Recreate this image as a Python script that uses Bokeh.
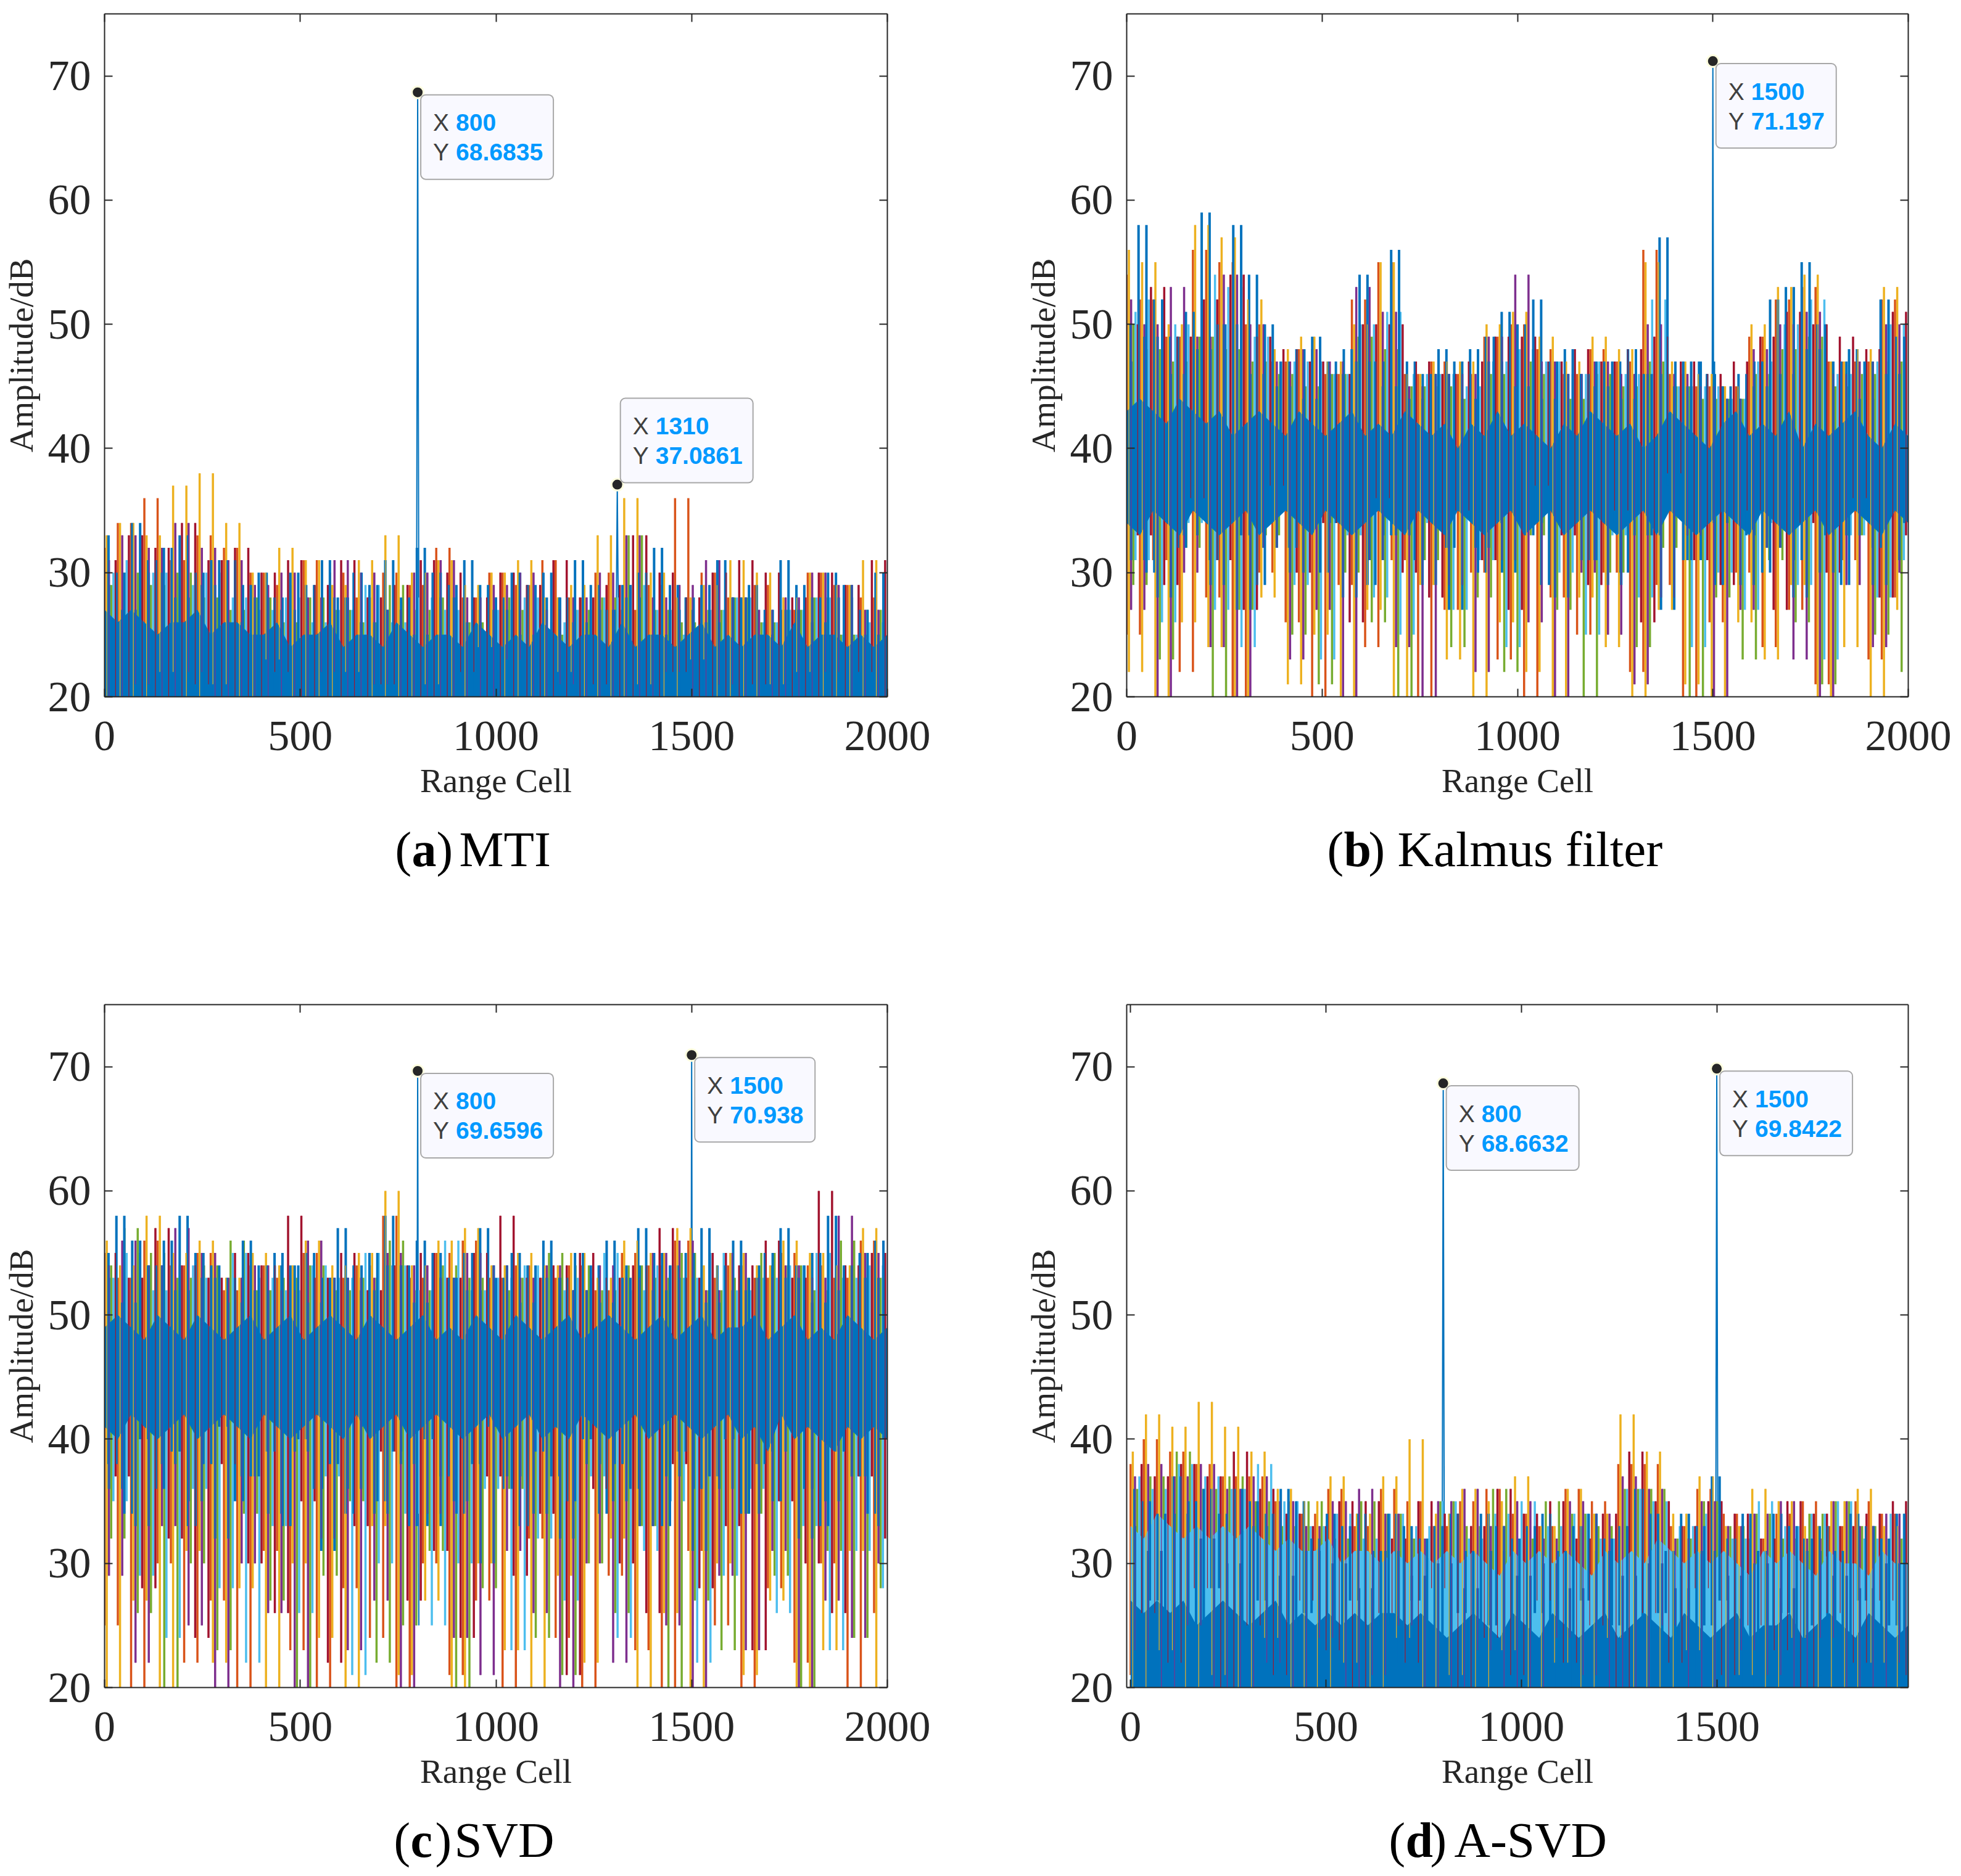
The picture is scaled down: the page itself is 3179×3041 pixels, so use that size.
from bokeh.plotting import figure
from bokeh.layouts import column, row
from bokeh.models import BoxAnnotation, Label, LinearAxis, FixedTicker
from bokeh.core.properties import value
from bokeh.embed import file_html
from bokeh.resources import INLINE
import numpy as np

# Hand-estimated, coarse readings of the dense spectra (alternating peak / trough, dB).
a_orange = [32,19,34,22,36,17,31,21,33,18,32,20,30,16,29,22,31,19,30,17,28,21,30,18,29,20,32,22,28,17,30,19,29,21,31,16,28,20,30,18,27,22,29,17,36,21,30,19,28,20,29,16,27,22,30,18,29,21,28,19]
a_yellow = [33,20,34,17,33,22,37,18,38,21,34,16,30,23,32,19,31,17,29,22,31,20,33,18,30,21,31,16,29,24,30,19,31,17,28,22,29,20,33,18,36,21,30,17,28,23,29,19,31,16,30,21,28,22,30,18,29,20,31,17]
a_purple = [31,17,33,21,32,18,34,22,32,16,31,20,29,19,30,17,28,22,31,18,30,21,27,16,30,19,31,20,28,17,29,23,30,18,27,21,28,16,30,20,33,19,28,22,29,17,31,21,28,18,27,20,28,16,30,22,29,19,27,18]
a_green = [29,21,30,18,29,23,30,17,28,20,27,22,28,19,26,21,28,17,27,23,26,19,29,20,27,18,28,22,26,16,28,21,27,19,25,23,27,18,28,20,33,22,27,17,26,19,27,23,28,18,26,20,27,21,28,17,25,22,27,19]
a_cyan = [30,22,31,19,30,24,29,20,30,18,28,23,27,21,28,19,26,24,27,18,29,22,26,20,28,19,27,23,25,21,27,18,28,24,26,20,27,19,28,22,29,23,27,18,25,21,27,24,28,19,26,22,27,20,28,18,25,23,26,21]
a_red = [31,18,33,20,32,17,34,21,31,19,32,16,30,22,31,18,29,20,31,17,28,21,29,19,31,18,30,22,28,16,30,20,29,19,31,17,28,21,29,18,33,20,30,22,28,17,30,19,31,21,30,18,28,20,30,16,29,22,31,18]
a_blue = [33,19,30,21,34,18,31,22,32,17,33,20,30,18,31,22,31,19,29,21,30,17,28,20,30,18,29,22,31,19,28,17,30,21,29,18,31,20,28,19,32,22,30,17,29,21,31,18,29,20,28,19,30,17,29,22,30,18,28,20,31,19,29,21,27,17,29,22,30,18,32,20,29,19,28,21,29,17,31,22,28,18,29,20,27,19,31,21,29,17,28,22,30,18,29,20,27,19,30,21]
a_blue2 = [29,18,27,21,30,16,28,20,29,17,26,22,28,15,27,19,25,21,28,16,26,20,27,18,25,22,28,17,26,19,27,15,25,21,28,18,26,20,27,16,28,22,25,17,27,19,26,21,28,15,25,18,27,20,26,16,28,22,25,19]
a_core_hi = [27,26,27,26,25,26,26,27,25,26,26,25,25,26,24,25,25,26,24,25,25,24,26,25,24,25,25,24,26,25,24,25,24,26,25,24,25,25,24,26,24,25,25,24,25,26,24,25,24,25,25,24,26,24,25,25,24,25,24,25]
a_core_lo = [20]*60
a_tip_x = [800,1310]
a_tip_y = [68.6835,37.0861]

b_orange = [54,25,52,31,49,22,56,28,55,20,50,30,47,26,48,19,46,29,52,24,55,31,46,18,47,27,46,30,49,23,50,20,48,28,46,25,48,30,47,22,56,29,46,18,45,26,45,30,49,24,52,27,53,21,47,31,47,23,52,28]
b_yellow = [56,22,55,18,50,26,58,24,57,17,52,28,48,21,49,25,47,16,50,27,55,20,46,29,47,23,47,17,50,26,51,22,49,18,47,28,49,24,48,19,55,27,47,21,46,17,45,26,50,23,53,29,54,20,47,24,48,18,53,27]
b_purple = [52,27,50,20,53,30,49,24,54,19,50,32,47,23,48,27,47,20,53,31,51,24,45,18,46,29,46,22,49,31,54,26,47,19,46,30,47,25,46,21,50,28,46,33,45,20,44,27,48,32,50,23,51,18,46,29,47,24,50,30]
b_green = [50,29,48,23,47,32,49,19,48,27,47,33,46,25,45,21,46,30,49,26,48,20,45,31,45,24,44,28,46,22,47,33,46,27,44,20,46,30,45,24,47,32,45,19,44,28,44,23,46,31,48,26,49,21,45,33,46,25,47,22]
b_cyan = [51,31,52,26,50,34,54,27,53,24,49,35,47,29,47,23,46,33,50,28,51,25,46,34,46,27,45,31,47,24,48,36,47,30,46,25,47,33,46,28,52,35,45,24,45,30,44,27,47,34,50,29,52,23,46,33,47,28,50,31]
b_red = [50,33,53,29,49,36,52,31,54,27,49,37,48,30,47,34,46,26,50,36,50,30,47,28,46,35,47,31,49,27,49,37,47,33,48,29,47,35,48,26,49,38,47,31,46,29,47,35,49,27,51,34,50,30,49,36,48,28,51,33]
b_blue = [50,34,58,30,52,36,49,32,51,37,59,31,50,35,58,33,54,29,50,36,47,32,48,37,49,30,47,34,48,36,54,29,47,33,56,36,47,31,46,35,48,32,47,37,48,30,49,34,51,36,50,33,52,29,47,35,48,37,46,31,47,34,47,30,48,36,46,33,57,37,47,31,47,34,46,29,45,36,46,33,47,30,52,35,53,31,55,37,50,33,47,29,48,35,47,32,52,36,49,34]
b_blue2 = [47,31,49,28,46,33,48,29,50,27,46,32,45,30,44,34,46,28,47,31,45,33,44,29,46,27,44,32,47,30,45,34,44,28,46,31,45,29,44,33,46,27,45,31,47,34,44,29,45,32,46,28,48,30,47,33,44,29,46,31]
b_core_hi = [43,44,43,42,44,43,42,43,41,42,43,42,41,43,42,41,42,43,41,42,41,43,42,41,42,40,42,41,43,41,42,41,40,42,41,43,42,41,42,40,41,43,42,41,40,42,43,41,42,41,43,40,42,41,42,43,41,40,42,41]
b_core_lo = [34,33,35,34,33,35,34,33,34,35,33,34,35,34,33,35,34,33,34,35,34,33,35,34,33,35,34,33,34,35,33,34,35,33,34,35,34,33,34,35,33,35,34,33,34,35,34,33,35,34,33,34,35,33,34,35,34,33,35,34]
b_tip_x = [1500]
b_tip_y = [71.197]

c_orange = [55,25,53,19,56,30,54,22,55,27,52,18,54,31,53,23,55,20,53,28,54,24,58,17,53,30,55,21,56,27,53,19,54,32,53,24,54,20,52,29,55,23,54,18,56,31,53,25,54,20,53,28,55,22,54,30,53,19,56,26]
c_yellow = [56,20,54,27,58,18,55,31,56,22,53,28,55,17,54,30,56,24,54,19,55,33,60,21,54,27,56,18,57,30,54,23,55,17,54,29,55,22,53,32,56,19,55,26,57,18,54,30,55,21,54,27,56,17,55,23,54,31,57,20]
c_purple = [54,29,56,22,54,33,57,25,55,18,53,30,54,26,52,20,56,32,53,23,53,27,55,19,54,34,53,24,55,21,54,31,53,26,54,18,52,30,54,22,53,33,55,25,56,19,52,29,55,23,53,31,54,20,53,27,58,24,55,30]
c_green = [54,32,57,26,55,19,53,30,54,23,56,34,52,27,53,20,54,29,52,35,53,22,56,25,52,31,54,19,53,28,52,36,53,24,55,21,54,30,52,26,54,33,53,18,55,27,52,23,53,34,55,29,54,20,52,31,56,24,53,28]
c_cyan = [53,35,55,29,52,24,54,36,53,28,55,22,53,33,52,26,54,37,53,21,55,30,54,34,52,25,56,30,52,36,53,23,54,32,52,27,53,37,55,24,52,31,54,35,53,22,55,29,52,36,53,26,54,33,55,23,53,31,54,28]
c_red = [55,37,53,28,57,32,54,24,53,38,55,30,54,26,58,35,53,22,55,33,52,39,54,27,55,31,53,24,55,37,58,29,53,34,54,21,55,36,53,30,54,26,57,38,53,28,55,33,54,23,56,35,53,30,60,26,54,37,55,32]
c_blue = [55,38,58,34,56,40,54,36,56,39,58,33,55,38,54,41,53,35,56,37,54,39,55,33,54,40,55,36,53,38,57,34,54,41,55,35,58,39,54,33,56,40,55,37,53,34,55,38,57,41,53,36,55,33,54,39,56,37,53,35,55,40,54,34,56,38,53,36,57,41,55,33,54,39,55,36,57,37,54,40,56,34,53,38,55,35,57,41,54,36,55,33,58,39,54,37,55,34,56,40]
c_blue2 = [53,36,51,33,54,38,52,35,53,32,51,37,52,34,54,39,51,31,53,36,52,34,54,38,51,33,53,35,52,30,54,37,51,34,53,32,52,38,51,35,54,33,52,37,53,31,51,36,52,34,54,39,53,32,51,35,52,37,53,33]
c_core_hi = [49,50,49,48,50,49,48,50,49,48,49,50,48,49,50,48,49,50,49,48,50,49,48,49,50,48,49,48,50,49,48,50,49,48,49,50,48,49,50,49,48,49,50,48,49,50,48,49,49,50,48,49,50,48,49,48,50,49,48,49]
c_core_lo = [41,40,42,41,40,41,42,40,41,42,41,40,42,41,40,41,42,41,40,42,40,41,42,40,41,42,41,40,41,42,40,41,42,40,41,40,42,41,40,41,42,40,41,42,41,40,41,42,40,41,39,42,40,41,40,39,41,40,41,40]
c_tip_x = [800,1500]
c_tip_y = [69.6596,70.938]

d_orange = [38,21,40,17,39,23,38,19,37,22,37,18,35,24,34,17,36,21,33,20,36,23,35,18,33,22,35,19,36,17,34,24,33,20,36,18,35,22,38,19,38,23,33,17,36,21,34,20,32,18,34,23,35,19,33,22,35,17,34,21]
d_yellow = [39,19,42,23,41,17,43,21,41,18,39,24,36,20,35,17,37,22,34,19,37,24,40,18,34,21,36,17,35,23,37,19,33,22,36,18,34,24,42,20,39,17,34,23,37,19,33,21,36,18,35,24,33,20,35,17,36,22,33,19]
d_purple = [37,23,38,18,37,25,38,20,36,17,37,22,35,19,33,24,35,18,36,21,34,25,32,19,35,17,36,23,33,20,35,18,32,24,35,21,34,19,37,17,36,25,32,20,35,18,33,23,34,21,35,19,32,24,35,17,33,20,34,22]
d_green = [36,24,37,20,39,26,36,22,37,19,35,25,33,21,35,27,32,19,35,24,34,22,32,26,35,20,33,23,36,19,32,27,35,21,34,24,33,20,36,26,36,22,32,19,35,25,33,23,34,27,32,20,34,22,35,25,33,19,32,24]
d_cyan = [37,27,36,23,38,29,37,24,36,22,38,28,35,25,33,23,34,27,32,22,34,28,33,25,35,23,32,27,34,22,35,29,33,24,34,26,32,23,36,28,35,24,33,22,34,28,32,25,35,23,33,27,34,22,35,26,32,24,34,27]
d_red = [38,26,37,22,38,28,37,20,39,25,36,21,34,27,33,23,35,19,35,26,32,22,35,28,34,20,33,24,36,21,34,27,35,22,32,25,34,19,39,26,35,22,33,28,35,21,34,25,32,23,35,20,34,26,33,22,34,27,35,21]
d_blue = [36,24,35,27,34,22,37,26,35,23,36,28,34,21,36,25,35,27,34,23,36,20,35,26,32,24,34,22,33,27,34,21,31,25,34,23,33,27,32,20,33,24,34,26,31,22,34,25,33,21,32,23,33,26,34,20,31,24,33,27,34,22,32,25,33,21,36,24,34,26,31,23,34,20,33,25,37,27,32,22,34,24,31,21,34,26,33,23,32,25,33,20,31,24,34,27,33,22,32,25,34,23]
d_blue2 = [33,20,31,23,34,18,32,22,30,19,33,24,29,17,31,21,30,23,28,19,31,22,29,17,30,21,28,24,31,18,29,22,30,19,28,23,31,17,29,21,30,24,28,18,31,22,29,19,30,23,28,17,31,21,29,24,28,19,30,22]
d_core_hi = [27,26,27,26,27,25,26,27,26,25,26,27,25,26,25,26,25,26,25,26,26,25,26,25,24,25,26,25,24,26,25,24,26,25,24,25,26,24,25,26,25,24,26,25,24,25,26,24,25,25,26,24,25,26,25,24,26,25,24,25]
d_core_lo = [20]*60
d_band_hi = [33,32,34,33,32,33,32,33,32,33,32,31,32,31,31,32,30,31,31,30,31,30,31,30,31,30,31,30,29,31,30,31,30,31,30,29,31,30,31,30,32,31,30,31,30,31,30,29,31,30,31,30,29,31,30,30,29,31,30,30]
d_tip_x = [800,1500]
d_tip_y = [68.6632,69.8422]

SERIES_COLORS = ["#D95319","#EDB120","#7E2F8E","#77AC30","#4DBEEE","#A2142F"]
BLUE = "#0072BD"
X_TICKS = [0,500,1000,1500,2000]
Y_TICKS = [20,30,40,50,60,70]
CAP_LETTERS = [["a","b"],["c","d"]]
CAP_NAMES = [["MTI","Kalmus filter"],["SVD","A-SVD"]]
TXT = "#262626"

def streaks(p, x, vals, color, lw):
    p.segment(x[:-1], vals[:-1], x[:-1], vals[1:], line_color=color, line_width=lw, line_cap="butt")

def panel(series, blue, blue2, core_hi, core_lo, tips, xlim, xmax_data, xticks, frame_w, border_l, border_r, border_t, border_b, band=None, above=()):
    tx, ty = tips
    p = figure(width=border_l+frame_w+border_r, height=border_t+1107+border_b,
               frame_width=frame_w, frame_height=1107, x_range=xlim, y_range=(20,75),
               output_backend="svg", toolbar_location=None, min_border_left=border_l,
               min_border_right=border_r, min_border_top=border_t, min_border_bottom=border_b)
    sx = frame_w/(xlim[1]-xlim[0]); sy = 1107/55
    for x,y in zip(tx,ty):
        p.line([x-3,x,x+3],[25,y,25],line_color=BLUE,line_width=2)
    xs_all = []
    for k,(vals,col) in enumerate(zip(series,SERIES_COLORS)):
        step = xmax_data/(len(vals)-1)
        x = np.linspace(0,xmax_data,len(vals))+k*step/6
        xs_all.append(x)
        streaks(p, x, vals, col, 3.5)
    xc = np.linspace(0,xmax_data,len(core_hi))
    if band is not None:
        p.varea(xc, core_lo, band, fill_color=SERIES_COLORS[4])
    p.varea(xc, core_lo, core_hi, fill_color=BLUE)
    bstep = xmax_data/(len(blue)-1)
    streaks(p, np.linspace(0,xmax_data,len(blue))+bstep/2, blue, BLUE, 4)
    b2step = xmax_data/(len(blue2)-1)
    streaks(p, np.linspace(0,xmax_data,len(blue2))+b2step/3, blue2, BLUE, 4)
    for k in (1,2,5):
        streaks(p, xs_all[k], series[k], SERIES_COLORS[k], 1.2)
    p.scatter(tx,ty,size=19,fill_color="#262626",line_color="#FFFFE0",line_width=3)
    for i,(x,y) in enumerate(zip(tx,ty)):
        xs, ys = str(x), f"{y:g}"
        w = 195 if len(ys)==6 else 215
        lft = x+5/sx
        top = y+140/sy if i in above else y-4/sy
        p.add_layout(BoxAnnotation(left=lft,right=lft+w/sx,top=top,bottom=top-137/sy,
            fill_color="#F9F9FF",fill_alpha=1,line_color="#A8A8A8",line_alpha=1,line_width=2,border_radius=8))
        for txt,dy in ((("X",xs),45),(("Y",ys),93)):
            p.add_layout(Label(x=lft+20/sx,y=top-dy/sy,text=txt[0],text_font="Liberation Sans",text_font_size="39px",
                text_color="#404040",text_baseline="middle"))
            p.add_layout(Label(x=lft+57/sx,y=top-dy/sy,text=txt[1],text_font="Liberation Sans",text_font_size="39px",
                text_font_style="bold",text_color="#0099FF",text_baseline="middle"))
    xa, ya = p.xaxis[0], p.yaxis[0]
    for ax,ticks in ((xa,xticks),(ya,Y_TICKS)):
        ax.ticker = FixedTicker(ticks=ticks)
        ax.major_tick_in=13; ax.major_tick_out=0; ax.minor_tick_line_color=None
        ax.major_tick_line_color=TXT; ax.major_tick_line_width=2; ax.axis_line_color=TXT; ax.axis_line_width=2
        ax.major_label_text_font="Liberation Serif"; ax.major_label_text_font_size="70px"; ax.major_label_text_color=TXT
        ax.axis_label_text_font="Liberation Serif"; ax.axis_label_text_font_size="55px"; ax.axis_label_text_font_style="normal"
        ax.axis_label_text_color=TXT
    xa.major_label_standoff=40; ya.major_label_standoff=22
    xa.axis_label="Range Cell"; ya.axis_label="Amplitude/dB"
    xa.axis_label_standoff=16; ya.axis_label_standoff=10
    p.add_layout(LinearAxis(ticker=FixedTicker(ticks=xticks),major_label_overrides={t:"" for t in xticks},major_label_text_font_size="1px",
        major_label_standoff=0,major_tick_in=13,major_tick_out=0,minor_tick_line_color=None,major_tick_line_width=2,
        major_tick_line_color=TXT,axis_line_color=TXT,axis_line_width=2),"above")
    p.add_layout(LinearAxis(ticker=FixedTicker(ticks=Y_TICKS),major_label_overrides={t:"" for t in Y_TICKS},major_label_text_font_size="1px",
        major_label_standoff=0,major_tick_in=13,major_tick_out=0,minor_tick_line_color=None,major_tick_line_width=2,
        major_tick_line_color=TXT,axis_line_color=TXT,axis_line_width=2),"right")
    p.grid.visible=False; p.outline_line_color=None
    return p

def strip(letters, names, starts, name_starts, h, yc):
    s = figure(width=3170, height=h, x_range=(0,3170), y_range=(h,0), output_backend="svg", toolbar_location=None,
               x_axis_location=None, y_axis_location=None, min_border=0)
    s.grid.visible=False; s.outline_line_color=None
    kw = dict(text_font=value("Liberation Serif"), text_color="#000000", text_baseline="middle")
    for l,n,x0,x1 in zip(letters,names,starts,name_starts):
        s.text([x0],[yc],text=["("],text_font_size="80px",**kw)
        s.text([x0+27],[yc],text=[l],text_font_style="bold",text_font_size="80px",**kw)
        s.text([x0+67],[yc],text=[")"],text_font_size="80px",**kw)
        s.text([x1],[yc],text=[n],text_font_size="81px",**kw)
    return s

BL, BT, BB = 163, 22, 170
pa = panel([a_orange,a_yellow,a_purple,a_green,a_cyan,a_red],a_blue,a_blue2,a_core_hi,a_core_lo,(a_tip_x,a_tip_y),(0,2000),2000,X_TICKS,1269,BL,219,BT,BB,above=(1,))
pb = panel([b_orange,b_yellow,b_purple,b_green,b_cyan,b_red],b_blue,b_blue2,b_core_hi,b_core_lo,(b_tip_x,b_tip_y),(0,2000),2000,X_TICKS,1267,BL,80,BT,BB)
pc = panel([c_orange,c_yellow,c_purple,c_green,c_cyan,c_red],c_blue,c_blue2,c_core_hi,c_core_lo,(c_tip_x,c_tip_y),(0,2000),2000,X_TICKS,1269,BL,219,BT,BB)
pd = panel([d_orange,d_yellow,d_purple,d_green,d_cyan,d_red],d_blue,d_blue2,d_core_hi,d_core_lo,(d_tip_x,d_tip_y),(-10,1990),1990,X_TICKS[:-1],1267,BL,80,BT,BB,band=d_band_hi)
s1 = strip(CAP_LETTERS[0],CAP_NAMES[0],[640,2151],[744,2265],307,77)
s2 = strip(CAP_LETTERS[1],CAP_NAMES[1],[638,2251],[736,2357],130,77)

doc = column(row(pa,pb,spacing=0),s1,row(pc,pd,spacing=0),s2,spacing=0)
open("out.html","w").write(file_html(doc,INLINE))
